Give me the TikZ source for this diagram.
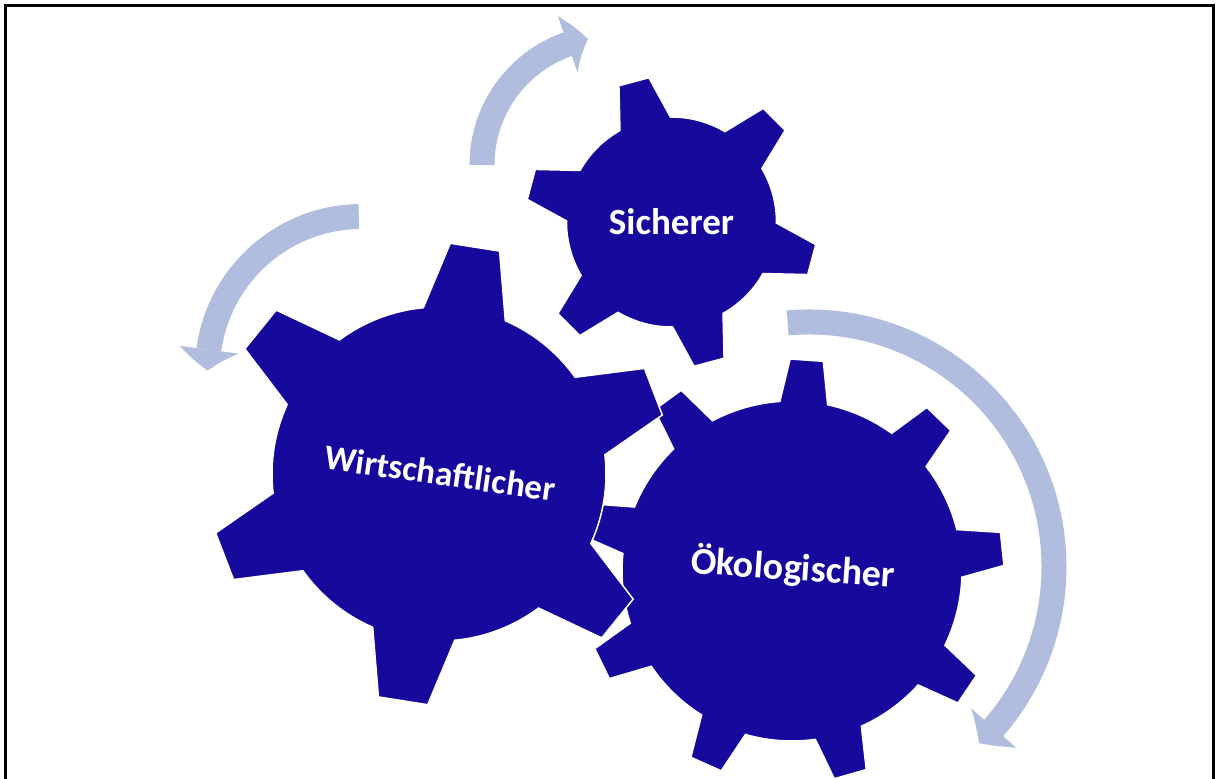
\documentclass[tikz,border=0pt]{standalone}
\usepackage{fontspec}
\setmainfont{Carlito}
\usetikzlibrary{arrows.meta,bending,positioning,calc}

\definecolor{gearblue}{RGB}{23,9,155}
\definecolor{arrowblue}{RGB}{176,189,222}

% gear outline: centre, teeth, body radius, tip radius, base half angle, tip half angle, rotation
\newcommand{\drawgear}[7]{%
  \begin{scope}[shift={(#1)}]
    \filldraw[gear] ({#7-#5}:#3)
      \foreach \t in {1,...,#2}{
        -- ({#7+(\t-1)*360/#2-#6}:#4) -- ({#7+(\t-1)*360/#2+#6}:#4)
        -- ({#7+(\t-1)*360/#2+#5}:#3)
        arc[start angle={#7+(\t-1)*360/#2+#5}, end angle={#7+\t*360/#2-#5}, radius=#3]
      } -- cycle;
  \end{scope}}

\begin{document}
\begin{tikzpicture}[x=1pt, y=1pt, >={Triangle[length=21pt,width=59pt,line width=0.1pt,bend]}]
        \tikzstyle{gear}=[fill=gearblue, draw=white, line width=1.5pt]
        \tikzstyle{cyclearrow}=[->, draw=arrowblue, line width=25pt]
        \tikzstyle{geartext}=[text=white, font=\bfseries\fontsize{37}{40}\selectfont]
        \useasboundingbox (0,0) rectangle (1219,779);

        % frame
        \draw[line width=3pt] (5.5,-10) |- (1213,773.5) -- (1213,-10);

        \coordinate (wirtC) at (439,305);
        \coordinate (sichC) at (671.5,557);
        \coordinate (oekoC) at (792,208);

        % arrows
        \coordinate (topA)   at (610,614);
        \coordinate (leftA)  at (361.5,408.5);
        \coordinate (rightA) at (809,212);
        \draw[cyclearrow] ($(topA)+(180:128)$) arc[start angle=180, end angle=100, radius=128];
        \draw[cyclearrow] ($(leftA)+(91:154)$) arc[start angle=91, end angle=180, radius=154];
        \draw[cyclearrow] ($(rightA)+(95:245)$) arc[start angle=95, end angle=-46, radius=245];

        % gears
        \drawgear{oekoC}{9}{170}{212}{8.1}{4.5}{6}
        \drawgear{wirtC}{6}{167}{231}{14.4}{6.2}{21}
        \drawgear{sichC}{6}{105}{146}{14.4}{6.1}{45}

        \node[geartext, rotate=-8, font=\bfseries\fontsize{35}{40}\selectfont] (wirt) at ($(wirtC)+(1,1)$) {Wirtschaftlicher};
        \node[geartext]            (sich) at (sichC) {Sicherer};
        \node[geartext, rotate=-4, font=\bfseries\fontsize{38}{40}\selectfont] (oeko) at ($(oekoC)+(1,3)$) {Ökologischer};
\end{tikzpicture}
\end{document}
